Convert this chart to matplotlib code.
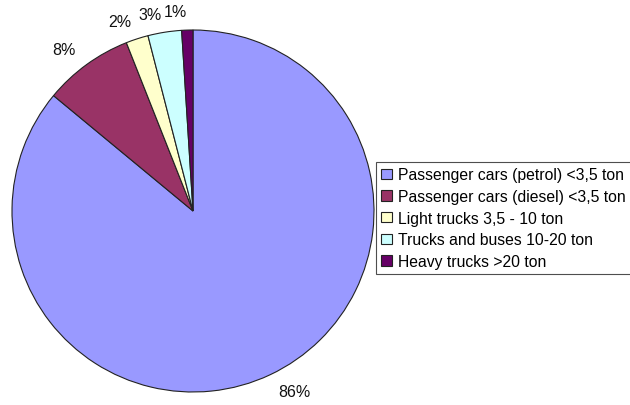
import matplotlib
matplotlib.use("Agg")
import matplotlib.pyplot as plt

categories = [
    "Passenger cars (petrol) <3,5 ton",
    "Passenger cars (diesel) <3,5 ton",
    "Light trucks 3,5 - 10 ton",
    "Trucks and buses 10-20 ton",
    "Heavy trucks >20 ton",
]
shares = [86, 8, 2, 3, 1]
colors = ["#9999FF", "#993366", "#FFFFCC", "#CCFFFF", "#660066"]

plt.rcParams["font.family"] = ["Liberation Sans", "DejaVu Sans"]

fig = plt.figure(figsize=(6.3, 4.06), dpi=100)
W, H = 630, 406
cx, cy, r = 193, 212, 181
ax = fig.add_axes([(cx - r) / W, (H - cy - r) / H, 2 * r / W, 2 * r / H])

wedges, texts = ax.pie(
    shares,
    labels=[f"{v}%" for v in shares],
    colors=colors,
    startangle=90,
    counterclock=False,
    labeldistance=1.1,
    radius=1.0,
    wedgeprops=dict(edgecolor="#222222", linewidth=0.8),
    textprops=dict(fontsize=11.5, color="#111111"),
)
ax.set_xlim(-1, 1)
ax.set_ylim(-1, 1)
ax.set_aspect("equal")

leg = fig.legend(
    wedges, categories,
    loc="upper left",
    bbox_to_anchor=(376 / W, 1 - 163 / H),
    fontsize=11.3,
    frameon=True,
    fancybox=False,
    edgecolor="#222222",
    handlelength=0.65,
    handleheight=0.65,
    handletextpad=0.4,
    labelspacing=0.42,
    borderpad=0.35,
    borderaxespad=0,
)
leg.get_frame().set_linewidth(0.8)

fig.savefig("out.png", dpi=100)
